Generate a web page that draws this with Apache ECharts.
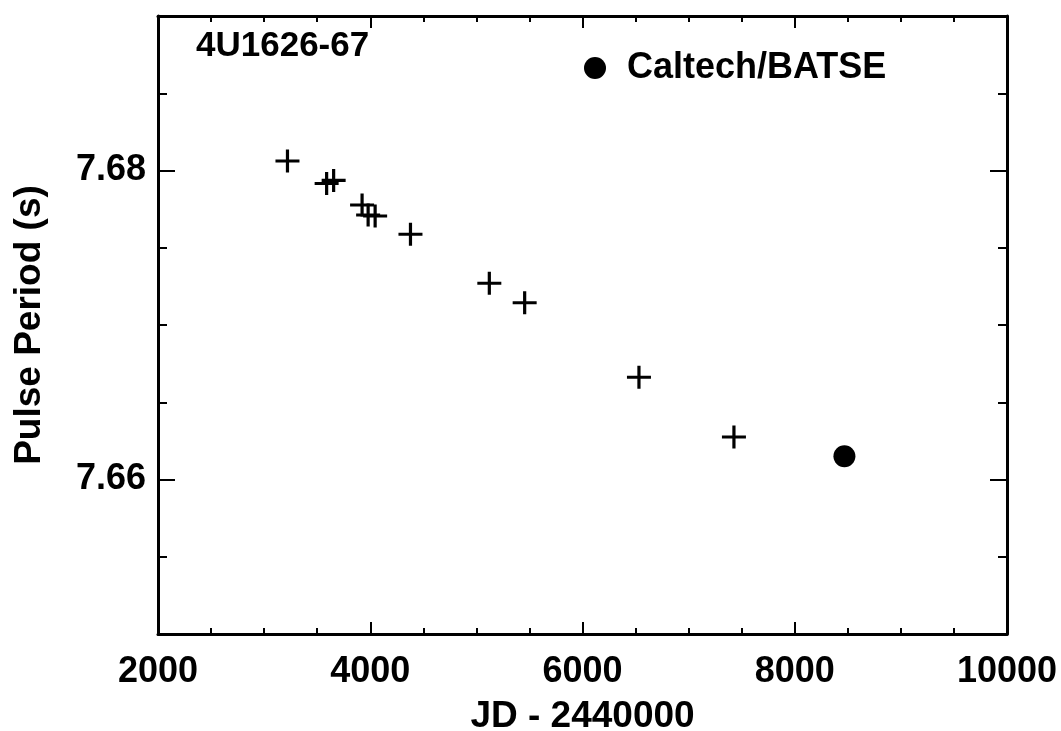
<!DOCTYPE html>
<html>
<head>
<meta charset="utf-8">
<script src="https://cdn.jsdelivr.net/npm/echarts@6/dist/echarts.min.js"></script>
<style>
  html, body { margin: 0; padding: 0; background: #fff; }
  #app { width: 1061px; height: 731px; }
</style>
</head>
<body>
<div id="app"></div>
<script>
// pulse period history of 4U1626-67
const crossJD = [3220, 3589, 3655, 3923, 3980, 4046, 4379, 5122, 5455, 6532, 7427];
const crossPeriod = [7.68061, 7.67916, 7.67936, 7.67777, 7.67712, 7.67706, 7.67587, 7.6727, 7.67144, 7.66662, 7.66275];
const batseJD = [8468];
const batsePeriod = [7.66151];
const yLabelTicks = [7.66, 7.68];

const FONT = 'Liberation Sans';
const plus = 'path://M10.4,0 H13.6 V10.4 H24 V13.6 H13.6 V24 H10.4 V13.6 H0 V10.4 H10.4 Z';

const eChart = echarts.init(document.getElementById('app'));

function zip(xs, ys) {
  return xs.map((x, i) => [x, ys[i]]);
}

const lineStyle = { color: '#000', width: 3 };

function xAxisOpt(position, showLabel) {
  return {
    type: 'value',
    position: position,
    min: 2000,
    max: 10000,
    interval: 2000,
    axisLine: { show: true, onZero: false, lineStyle: lineStyle },
    axisTick: { show: true, inside: true, length: 12, lineStyle: { color: '#000', width: 2 } },
    minorTick: { show: true, splitNumber: 4, length: 6, lineStyle: { color: '#000', width: 2 } },
    splitLine: { show: false },
    axisLabel: {
      show: showLabel,
      formatter: (v) => String(v),
      color: '#000',
      fontFamily: FONT,
      fontWeight: 'bold',
      fontSize: 36,
      margin: 20,
    },
    name: showLabel ? 'JD - 2440000' : '',
    nameLocation: 'middle',
    nameGap: 64,
    nameTextStyle: { color: '#000', fontFamily: FONT, fontWeight: 'bold', fontSize: 37 },
  };
}

function yMinorAxis(position) {
  return {
    type: 'value',
    position: position,
    min: 7.65,
    max: 7.69,
    interval: 0.005,
    axisLine: { show: true, onZero: false, lineStyle: lineStyle },
    axisTick: { show: true, inside: true, length: 9, lineStyle: { color: '#000', width: 2 } },
    axisLabel: { show: false },
    splitLine: { show: false },
  };
}

function yMajorAxis(position, showLabel) {
  return {
    type: 'value',
    position: position,
    min: 7.65,
    max: 7.69,
    axisLine: { show: false },
    axisTick: {
      show: true,
      inside: true,
      length: 17,
      customValues: yLabelTicks,
      lineStyle: { color: '#000', width: 2 },
    },
    axisLabel: {
      show: showLabel,
      customValues: yLabelTicks,
      formatter: (v) => v.toFixed(2),
      color: '#000',
      fontFamily: FONT,
      fontWeight: 'bold',
      fontSize: 36,
      margin: 12,
    },
    splitLine: { show: false },
    name: showLabel ? 'Pulse Period (s)' : '',
    nameLocation: 'middle',
    nameRotate: 90,
    nameGap: 110,
    nameTextStyle: { color: '#000', fontFamily: FONT, fontWeight: 'bold', fontSize: 37 },
  };
}

const option = {
  backgroundColor: '#fff',
  animation: false,
  title: {
    text: '4U1626-67',
    left: 196,
    top: 29,
    padding: 0,
    textStyle: { color: '#000', fontFamily: FONT, fontWeight: 'bold', fontSize: 35 },
  },
  legend: {
    data: ['Caltech/BATSE'],
    left: 584,
    top: 50,
    padding: 0,
    icon: 'circle',
    itemWidth: 22,
    itemHeight: 22,
    textStyle: {
      color: '#000',
      fontFamily: FONT,
      fontWeight: 'bold',
      fontSize: 36,
      padding: [0, 0, 0, 16],
    },
  },
  grid: { left: 158, right: 54, top: 16, bottom: 97, outerBoundsMode: 'none', containLabel: false },
  xAxis: [xAxisOpt('bottom', true), xAxisOpt('top', false)],
  yAxis: [
    yMinorAxis('left'),
    yMajorAxis('left', true),
    yMinorAxis('right'),
    yMajorAxis('right', false),
  ],
  series: [
    {
      type: 'scatter',
      name: 'EXOSAT',
      xAxisIndex: 0,
      yAxisIndex: 0,
      data: zip(crossJD, crossPeriod),
      symbol: plus,
      symbolSize: [24, 23],
      itemStyle: { color: '#000', opacity: 1 },
    },
    {
      type: 'scatter',
      name: 'Caltech/BATSE',
      xAxisIndex: 0,
      yAxisIndex: 0,
      data: zip(batseJD, batsePeriod),
      symbol: 'circle',
      symbolSize: 22,
      itemStyle: { color: '#000', opacity: 1 },
    },
  ],
};
eChart.setOption(option);
</script>
</body>
</html>
